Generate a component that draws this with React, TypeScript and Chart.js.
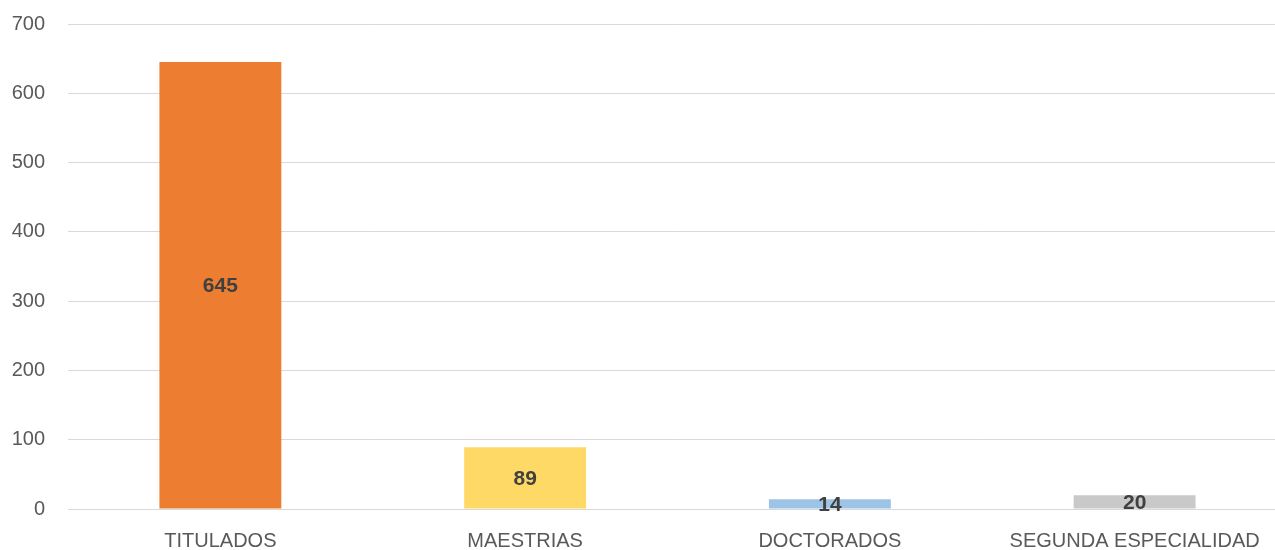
import React, { useEffect, useRef } from "react";
import { Chart, registerables } from "chart.js";

Chart.register(...registerables);

const categories = ["TITULADOS", "MAESTRIAS", "DOCTORADOS", "SEGUNDA ESPECIALIDAD"];
const values = [645, 89, 14, 20];
const barColors = ["#ED7D31", "#FFD966", "#9DC3E6", "#C9C9C9"];
const yTicks = [0, 100, 200, 300, 400, 500, 600, 700];

const FONT = "'Liberation Sans', Arial, sans-serif";

const valueLabels = {
  id: "valueLabels",
  afterDatasetsDraw(chart: any) {
    const ctx = chart.ctx;
    const meta = chart.getDatasetMeta(0);
    ctx.save();
    ctx.fillStyle = "#404040";
    ctx.font = `bold 21px ${FONT}`;
    ctx.textAlign = "center";
    ctx.textBaseline = "middle";
    meta.data.forEach((bar: any, i: number) => {
      const y = (bar.y + bar.base) / 2;
      ctx.fillText(String(values[i]), bar.x, y + 1);
    });
    ctx.restore();
  },
};

export default function App() {
  const ref = useRef<HTMLCanvasElement>(null);
  useEffect(() => {
    if (!ref.current) return;
    const chart = new Chart(ref.current, {
      type: "bar",
      data: {
        labels: categories,
        datasets: [
          {
            data: values,
            backgroundColor: barColors,
            borderWidth: 0,
            barPercentage: 1,
            categoryPercentage: 0.4,
          },
        ],
      },
      plugins: [valueLabels],
      options: {
        animation: false,
        responsive: false,
        maintainAspectRatio: false,
        layout: { padding: { top: 0, right: 3, bottom: -23, left: 0 } },
        plugins: { legend: { display: false }, tooltip: { enabled: false } },
        scales: {
          x: {
            grid: { display: false, drawTicks: false },
            border: { display: true, color: "#D9D9D9", width: 1 },
            ticks: { color: "#595959", font: { family: FONT, size: 20 }, padding: 20, maxRotation: 0, autoSkip: false },
          },
          y: {
            min: 0,
            max: 700,
            afterBuildTicks: (scale: any) => {
              scale.ticks = yTicks.map((v) => ({ value: v }));
            },
            afterFit: (scale: any) => {
              scale.width = 68;
            },
            grid: { color: "#D9D9D9", lineWidth: 1, drawTicks: false },
            border: { display: false },
            ticks: { color: "#595959", font: { family: FONT, size: 20 }, padding: 23 },
          },
        },
      },
    });
    return () => chart.destroy();
  }, []);
  return (
    <div style={{ position: "fixed", left: 0, top: -11, width: 1290, height: 561, background: "#fff" }}>
      <canvas ref={ref} width={1290} height={561} style={{ display: "block" }} />
    </div>
  );
}
